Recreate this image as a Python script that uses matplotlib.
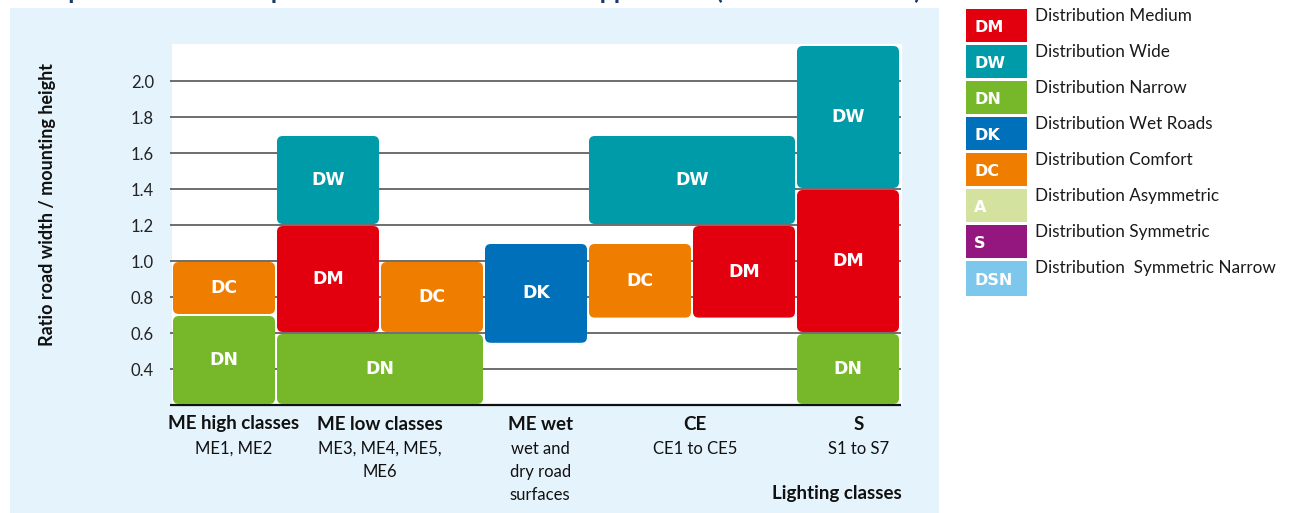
import matplotlib.pyplot as plt
from matplotlib.patches import FancyBboxPatch, Rectangle

plt.rcParams['font.family'] = ['Lato', 'DejaVu Sans']

# lighting classes along the x axis
categories = ["ME high classes", "ME low classes", "ME wet", "CE", "S"]
category_notes = ["ME1, ME2", "ME3, ME4, ME5,\nME6", "wet and\ndry road\nsurfaces",
                  "CE1 to CE5", "S1 to S7"]
category_pos = [0.59, 2.0, 3.54, 5.03, 6.6]

# distribution blocks: code, column range, ratio range
block_codes = ["DN", "DC", "DN", "DM", "DW", "DC", "DK", "DC", "DM", "DW", "DN", "DM", "DW"]
block_x0 = [0, 0, 1, 1, 1, 2, 3, 4, 5, 4, 6, 6, 6]
block_x1 = [1, 1, 3, 2, 2, 3, 4, 5, 6, 6, 7, 7, 7]
block_lo = [0.2, 0.7, 0.2, 0.6, 1.2, 0.6, 0.54, 0.68, 0.68, 1.2, 0.2, 0.6, 1.4]
block_hi = [0.7, 1.0, 0.6, 1.2, 1.7, 1.0, 1.1, 1.1, 1.2, 1.7, 0.6, 1.4, 2.2]

yticks = [0.4, 0.6, 0.8, 1.0, 1.2, 1.4, 1.6, 1.8, 2.0]

legend_codes = ["DM", "DW", "DN", "DK", "DC", "A", "S", "DSN"]
legend_names = ["Distribution Medium", "Distribution Wide", "Distribution Narrow",
                "Distribution Wet Roads", "Distribution Comfort",
                "Distribution Asymmetric", "Distribution Symmetric",
                "Distribution  Symmetric Narrow"]

colors = {"DM": "#e2000f", "DW": "#009ba9", "DN": "#77b82a", "DK": "#0070ba",
          "DC": "#ef7d00", "A": "#d3e29f", "S": "#93177f", "DSN": "#7dc6ec"}

W, H = 1298, 513
fig = plt.figure(figsize=(W / 100, H / 100), dpi=100)
fig.patch.set_facecolor("white")

# light blue panel behind the chart
fig.add_artist(Rectangle((10 / W, 0), 929 / W, 505 / H, transform=fig.transFigure,
                         facecolor="#e5f3fc", edgecolor="none", zorder=0))

# title, cut off at the top of the picture (as in the original)
fig.text(48 / W, 1 + 1 / H, "Optical distribution per road class and luminaire application (roads and streets)",
         fontsize=18, fontweight="bold", color="#1b3a6b", va="baseline", ha="left")

ax = fig.add_axes([172 / W, 1 - 405 / H, 730 / W, 361 / H])
ax.set_facecolor("white")
ax.set_xlim(0, 730 / 104)
ax.set_ylim(0.2, 0.2 + 361 / 180)
for s in ax.spines.values():
    s.set_visible(False)
ax.set_xticks([])
ax.set_yticks(yticks)
ax.set_yticklabels([f"{v:.1f}" for v in yticks], fontsize=12, color="#222222")
ax.tick_params(axis="y", length=0, pad=13)

# grid lines and base line
ax.hlines(yticks, -0.02, 7.01, color="#555555", lw=1.2, zorder=1, clip_on=False)
ax.hlines(0.2, -0.02, 7.01, color="#111111", lw=1.6, zorder=1, clip_on=False)

gx = 1.0 / 104
gy = 1.0 / 180
for code, x0, x1, lo, hi in zip(block_codes, block_x0, block_x1, block_lo, block_hi):
    box = FancyBboxPatch((x0 + gx, lo + gy), (x1 - x0) - 2 * gx, (hi - lo) - 2 * gy,
                         boxstyle="round,pad=0,rounding_size=0.055",
                         mutation_aspect=104 / 180,
                         facecolor=colors[code], edgecolor="none", zorder=3)
    ax.add_patch(box)
    ax.text((x0 + x1) / 2, (lo + hi) / 2, code, color="white", fontsize=12.5,
            fontweight="bold", family="DejaVu Sans", ha="center", va="center", zorder=4)

# class labels below the axis
for cat, note, xp in zip(categories, category_notes, category_pos):
    ax.text(xp, 0.2 - 19 / 180, cat, fontsize=13.5, fontweight="bold", color="#111111",
            ha="center", va="center", clip_on=False)
    ax.text(xp, 0.2 - 36 / 180, note, fontsize=12, color="#111111",
            ha="center", va="top", linespacing=1.55, clip_on=False)

ax.text(730 / 104, 0.2 - 89 / 180, "Lighting classes", fontsize=13.5, fontweight="bold",
        color="#111111", ha="right", va="center", clip_on=False)

fig.text(48 / W, 1 - 205 / H, "Ratio road width / mounting height", rotation=90,
         fontsize=13, fontweight="bold", color="#111111", ha="center", va="center")

# legend on the right, drawn in pixel units
lg = fig.add_axes([0, 0, 1, 1])
lg.set_xlim(0, W)
lg.set_ylim(H, 0)
lg.axis("off")
lg.patch.set_alpha(0)
for i, (code, name) in enumerate(zip(legend_codes, legend_names)):
    top = 9 + 36 * i
    h = 33 if i < len(legend_codes) - 1 else 35
    lg.add_patch(Rectangle((966, top), 61, h, facecolor=colors[code], edgecolor="none"))
    lg.text(974, top + h / 2 + 2, code, color="white", fontsize=11.5, fontweight="bold",
            family="DejaVu Sans", ha="left", va="center")
    lg.text(1035, top + 7, name, color="#1a1a1a", fontsize=12.3, ha="left", va="center")

fig.savefig("out.png", dpi=100)
